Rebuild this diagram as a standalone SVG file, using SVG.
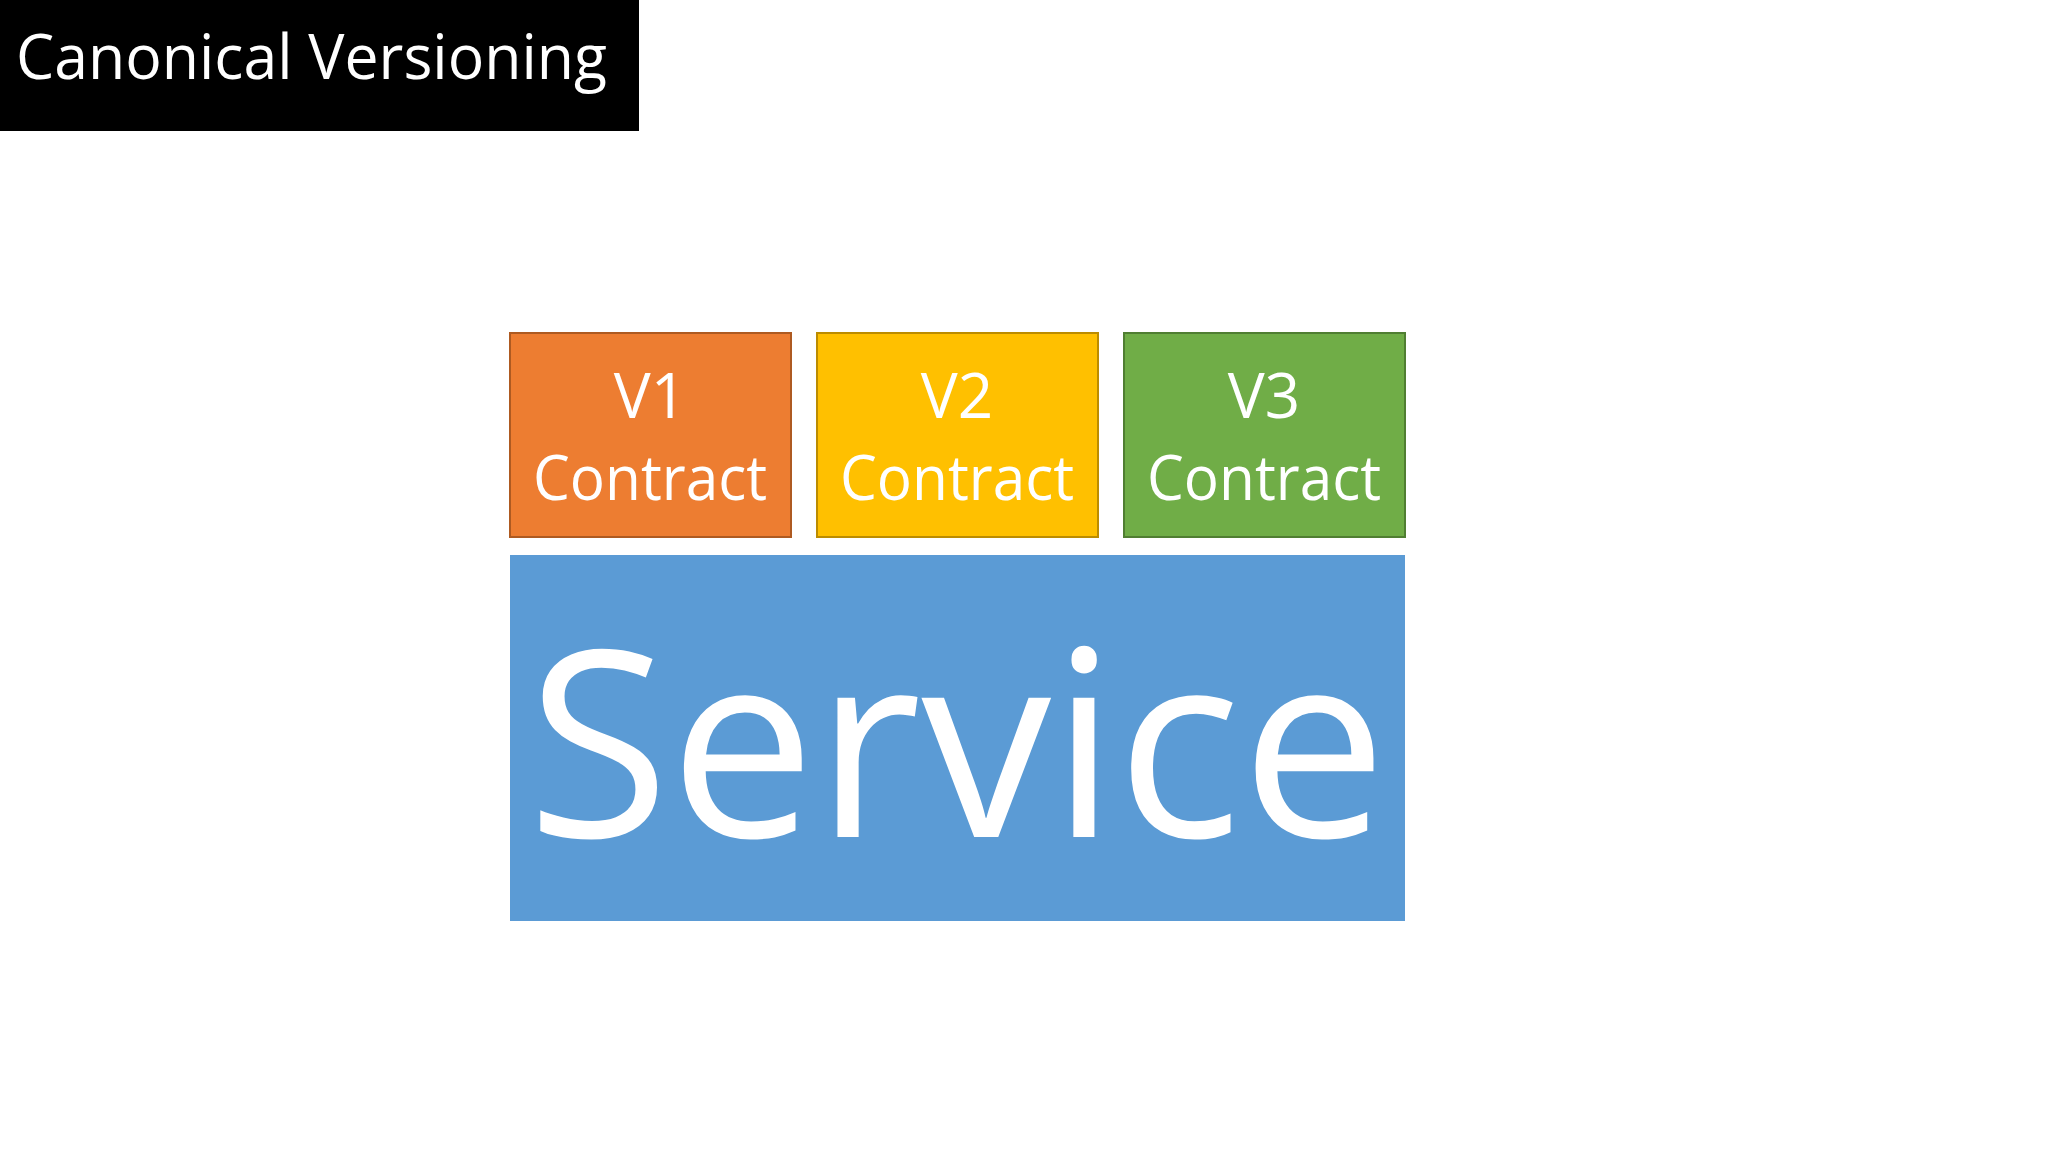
<svg xmlns="http://www.w3.org/2000/svg" width="2048" height="1152" viewBox="0 0 2048 1152">
<style>
  text { font-family: "Open Sans", "Noto Sans", "DejaVu Sans", sans-serif; fill: #ffffff; }
  .lbl { font-size: 62px; text-anchor: middle; }
  .box { stroke-width: 2; }
</style>
<rect x="0" y="0" width="2048" height="1152" fill="#ffffff"/>
<g id="title">
  <rect x="0" y="0" width="639" height="131" fill="#000000"/>
  <text x="16" y="79" font-size="62" textLength="591" lengthAdjust="spacingAndGlyphs">Canonical Versioning</text>
</g>
<g id="v1">
  <rect class="box" x="510" y="333" width="281" height="204" fill="#ED7D31" stroke="#AE5A21"/>
  <text class="lbl" x="650" y="418">V1</text>
  <text class="lbl" x="650" y="500" textLength="234" lengthAdjust="spacingAndGlyphs">Contract</text>
</g>
<g id="v2">
  <rect class="box" x="817" y="333" width="281" height="204" fill="#FFC000" stroke="#BC8C00"/>
  <text class="lbl" x="957" y="418">V2</text>
  <text class="lbl" x="957" y="500" textLength="234" lengthAdjust="spacingAndGlyphs">Contract</text>
</g>
<g id="v3">
  <rect class="box" x="1124" y="333" width="281" height="204" fill="#70AD47" stroke="#507E32"/>
  <text class="lbl" x="1264" y="418">V3</text>
  <text class="lbl" x="1264" y="500" textLength="234" lengthAdjust="spacingAndGlyphs">Contract</text>
</g>
<g id="service">
  <rect x="510" y="555" width="895" height="366" fill="#5B9BD5"/>
  <text x="957" y="837" font-size="260" text-anchor="middle" textLength="860" lengthAdjust="spacingAndGlyphs">Service</text>
</g>
<g id="connectors"></g>
</svg>
